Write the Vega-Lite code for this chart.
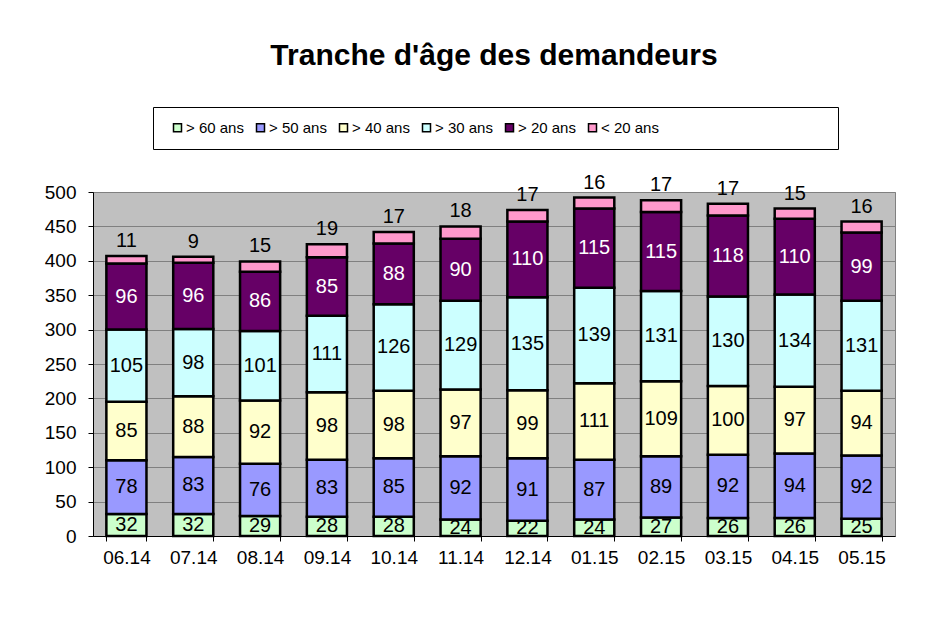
{
  "$schema": "https://vega.github.io/schema/vega-lite/v6.json",
  "width": 802,
  "height": 344,
  "autosize": "none",
  "padding": {"left": 93, "top": 192, "right": 48, "bottom": 98},
  "background": "white",
  "title": {"text": "Tranche d'âge des demandeurs", "font": "Liberation Sans", "fontSize": 30, "fontWeight": "bold", "color": "black", "anchor": "middle", "offset": 36},
  "config": {
    "view": {"fill": "#C0C0C0", "stroke": "#808080", "strokeWidth": 1},
    "font": "Liberation Sans"
  },
  "data": {"values": [
    {"m": "06.14", "g": "> 60 ans", "k": 1, "v": 32}, {"m": "06.14", "g": "> 50 ans", "k": 2, "v": 78}, {"m": "06.14", "g": "> 40 ans", "k": 3, "v": 85}, {"m": "06.14", "g": "> 30 ans", "k": 4, "v": 105}, {"m": "06.14", "g": "> 20 ans", "k": 5, "v": 96}, {"m": "06.14", "g": "< 20 ans", "k": 6, "v": 11},
    {"m": "07.14", "g": "> 60 ans", "k": 1, "v": 32}, {"m": "07.14", "g": "> 50 ans", "k": 2, "v": 83}, {"m": "07.14", "g": "> 40 ans", "k": 3, "v": 88}, {"m": "07.14", "g": "> 30 ans", "k": 4, "v": 98}, {"m": "07.14", "g": "> 20 ans", "k": 5, "v": 96}, {"m": "07.14", "g": "< 20 ans", "k": 6, "v": 9},
    {"m": "08.14", "g": "> 60 ans", "k": 1, "v": 29}, {"m": "08.14", "g": "> 50 ans", "k": 2, "v": 76}, {"m": "08.14", "g": "> 40 ans", "k": 3, "v": 92}, {"m": "08.14", "g": "> 30 ans", "k": 4, "v": 101}, {"m": "08.14", "g": "> 20 ans", "k": 5, "v": 86}, {"m": "08.14", "g": "< 20 ans", "k": 6, "v": 15},
    {"m": "09.14", "g": "> 60 ans", "k": 1, "v": 28}, {"m": "09.14", "g": "> 50 ans", "k": 2, "v": 83}, {"m": "09.14", "g": "> 40 ans", "k": 3, "v": 98}, {"m": "09.14", "g": "> 30 ans", "k": 4, "v": 111}, {"m": "09.14", "g": "> 20 ans", "k": 5, "v": 85}, {"m": "09.14", "g": "< 20 ans", "k": 6, "v": 19},
    {"m": "10.14", "g": "> 60 ans", "k": 1, "v": 28}, {"m": "10.14", "g": "> 50 ans", "k": 2, "v": 85}, {"m": "10.14", "g": "> 40 ans", "k": 3, "v": 98}, {"m": "10.14", "g": "> 30 ans", "k": 4, "v": 126}, {"m": "10.14", "g": "> 20 ans", "k": 5, "v": 88}, {"m": "10.14", "g": "< 20 ans", "k": 6, "v": 17},
    {"m": "11.14", "g": "> 60 ans", "k": 1, "v": 24}, {"m": "11.14", "g": "> 50 ans", "k": 2, "v": 92}, {"m": "11.14", "g": "> 40 ans", "k": 3, "v": 97}, {"m": "11.14", "g": "> 30 ans", "k": 4, "v": 129}, {"m": "11.14", "g": "> 20 ans", "k": 5, "v": 90}, {"m": "11.14", "g": "< 20 ans", "k": 6, "v": 18},
    {"m": "12.14", "g": "> 60 ans", "k": 1, "v": 22}, {"m": "12.14", "g": "> 50 ans", "k": 2, "v": 91}, {"m": "12.14", "g": "> 40 ans", "k": 3, "v": 99}, {"m": "12.14", "g": "> 30 ans", "k": 4, "v": 135}, {"m": "12.14", "g": "> 20 ans", "k": 5, "v": 110}, {"m": "12.14", "g": "< 20 ans", "k": 6, "v": 17},
    {"m": "01.15", "g": "> 60 ans", "k": 1, "v": 24}, {"m": "01.15", "g": "> 50 ans", "k": 2, "v": 87}, {"m": "01.15", "g": "> 40 ans", "k": 3, "v": 111}, {"m": "01.15", "g": "> 30 ans", "k": 4, "v": 139}, {"m": "01.15", "g": "> 20 ans", "k": 5, "v": 115}, {"m": "01.15", "g": "< 20 ans", "k": 6, "v": 16},
    {"m": "02.15", "g": "> 60 ans", "k": 1, "v": 27}, {"m": "02.15", "g": "> 50 ans", "k": 2, "v": 89}, {"m": "02.15", "g": "> 40 ans", "k": 3, "v": 109}, {"m": "02.15", "g": "> 30 ans", "k": 4, "v": 131}, {"m": "02.15", "g": "> 20 ans", "k": 5, "v": 115}, {"m": "02.15", "g": "< 20 ans", "k": 6, "v": 17},
    {"m": "03.15", "g": "> 60 ans", "k": 1, "v": 26}, {"m": "03.15", "g": "> 50 ans", "k": 2, "v": 92}, {"m": "03.15", "g": "> 40 ans", "k": 3, "v": 100}, {"m": "03.15", "g": "> 30 ans", "k": 4, "v": 130}, {"m": "03.15", "g": "> 20 ans", "k": 5, "v": 118}, {"m": "03.15", "g": "< 20 ans", "k": 6, "v": 17},
    {"m": "04.15", "g": "> 60 ans", "k": 1, "v": 26}, {"m": "04.15", "g": "> 50 ans", "k": 2, "v": 94}, {"m": "04.15", "g": "> 40 ans", "k": 3, "v": 97}, {"m": "04.15", "g": "> 30 ans", "k": 4, "v": 134}, {"m": "04.15", "g": "> 20 ans", "k": 5, "v": 110}, {"m": "04.15", "g": "< 20 ans", "k": 6, "v": 15},
    {"m": "05.15", "g": "> 60 ans", "k": 1, "v": 25}, {"m": "05.15", "g": "> 50 ans", "k": 2, "v": 92}, {"m": "05.15", "g": "> 40 ans", "k": 3, "v": 94}, {"m": "05.15", "g": "> 30 ans", "k": 4, "v": 131}, {"m": "05.15", "g": "> 20 ans", "k": 5, "v": 99}, {"m": "05.15", "g": "< 20 ans", "k": 6, "v": 16}
  ]},
  "transform": [
    {"stack": "v", "groupby": ["m"], "sort": [{"field": "k", "order": "ascending"}], "as": ["y0", "y1"]},
    {"calculate": "(datum.y0 + datum.y1) / 2", "as": "ym"}
  ],
  "encoding": {
    "x": {"field": "m", "type": "ordinal", "sort": null, "title": null,
      "scale": {"paddingInner": 0.4, "paddingOuter": 0.2},
      "axis": {"labelAngle": 0, "labelFontSize": 19, "labelColor": "black", "labelPadding": 7, "domainColor": "black", "domainWidth": 1, "tickColor": "black", "tickSize": 5, "tickBand": "extent", "labelFont": "Liberation Sans"}}
  },
  "layer": [
    {"mark": {"type": "bar", "stroke": "black", "strokeWidth": 2.5},
     "encoding": {
       "y": {"field": "y0", "type": "quantitative", "title": null,
         "scale": {"domain": [0, 500], "nice": false},
         "axis": {"values": [0, 50, 100, 150, 200, 250, 300, 350, 400, 450, 500], "labelOverlap": false, "labelFontSize": 19, "labelColor": "black", "labelPadding": 12, "domainColor": "black", "tickColor": "black", "tickSize": 5, "gridColor": "#808080", "gridWidth": 1, "gridOpacity": 1, "labelFont": "Liberation Sans"}},
       "y2": {"field": "y1"},
       "color": {"field": "g", "type": "nominal",
         "scale": {"domain": ["> 60 ans", "> 50 ans", "> 40 ans", "> 30 ans", "> 20 ans", "< 20 ans"], "range": ["#CCFFCC", "#9999FF", "#FFFFCC", "#CCFFFF", "#660066", "#FF99CC"]},
         "legend": {"orient": "none", "legendX": 60, "legendY": -85, "direction": "horizontal", "title": " ", "titleOrient": "right", "titlePadding": 166,
           "strokeColor": "black", "fillColor": "white", "padding": 13, "symbolType": "square", "symbolSize": 64, "symbolOffset": 4,
           "symbolStrokeColor": "black", "symbolStrokeWidth": 1.5, "labelFontSize": 15, "labelColor": "black", "labelFont": "Liberation Sans", "labelOffset": 1, "columnPadding": 5}}
     }},
    {"transform": [{"filter": "datum.g != '< 20 ans'"}],
     "mark": {"type": "text", "fontSize": 20, "font": "Liberation Sans", "baseline": "middle"},
     "encoding": {
       "y": {"field": "ym", "type": "quantitative",
         "axis": {"values": [0, 50, 100, 150, 200, 250, 300, 350, 400, 450, 500], "labelOverlap": false, "labelFontSize": 19, "labelColor": "black", "labelPadding": 12, "domainColor": "black", "tickColor": "black", "tickSize": 5, "gridColor": "#808080", "gridWidth": 1, "gridOpacity": 1, "labelFont": "Liberation Sans"}},
       "text": {"field": "v", "type": "quantitative"},
       "color": {"condition": {"test": "datum.g == '> 20 ans'", "value": "white"}, "value": "black"}
     }},
    {"transform": [{"filter": "datum.g == '< 20 ans'"}],
     "mark": {"type": "text", "fontSize": 20, "font": "Liberation Sans", "baseline": "middle", "dy": -15, "color": "black"},
     "encoding": {
       "y": {"field": "y1", "type": "quantitative",
         "axis": {"values": [0, 50, 100, 150, 200, 250, 300, 350, 400, 450, 500], "labelOverlap": false, "labelFontSize": 19, "labelColor": "black", "labelPadding": 12, "domainColor": "black", "tickColor": "black", "tickSize": 5, "gridColor": "#808080", "gridWidth": 1, "gridOpacity": 1, "labelFont": "Liberation Sans"}},
       "text": {"field": "v", "type": "quantitative"}
     }}
  ]
}
